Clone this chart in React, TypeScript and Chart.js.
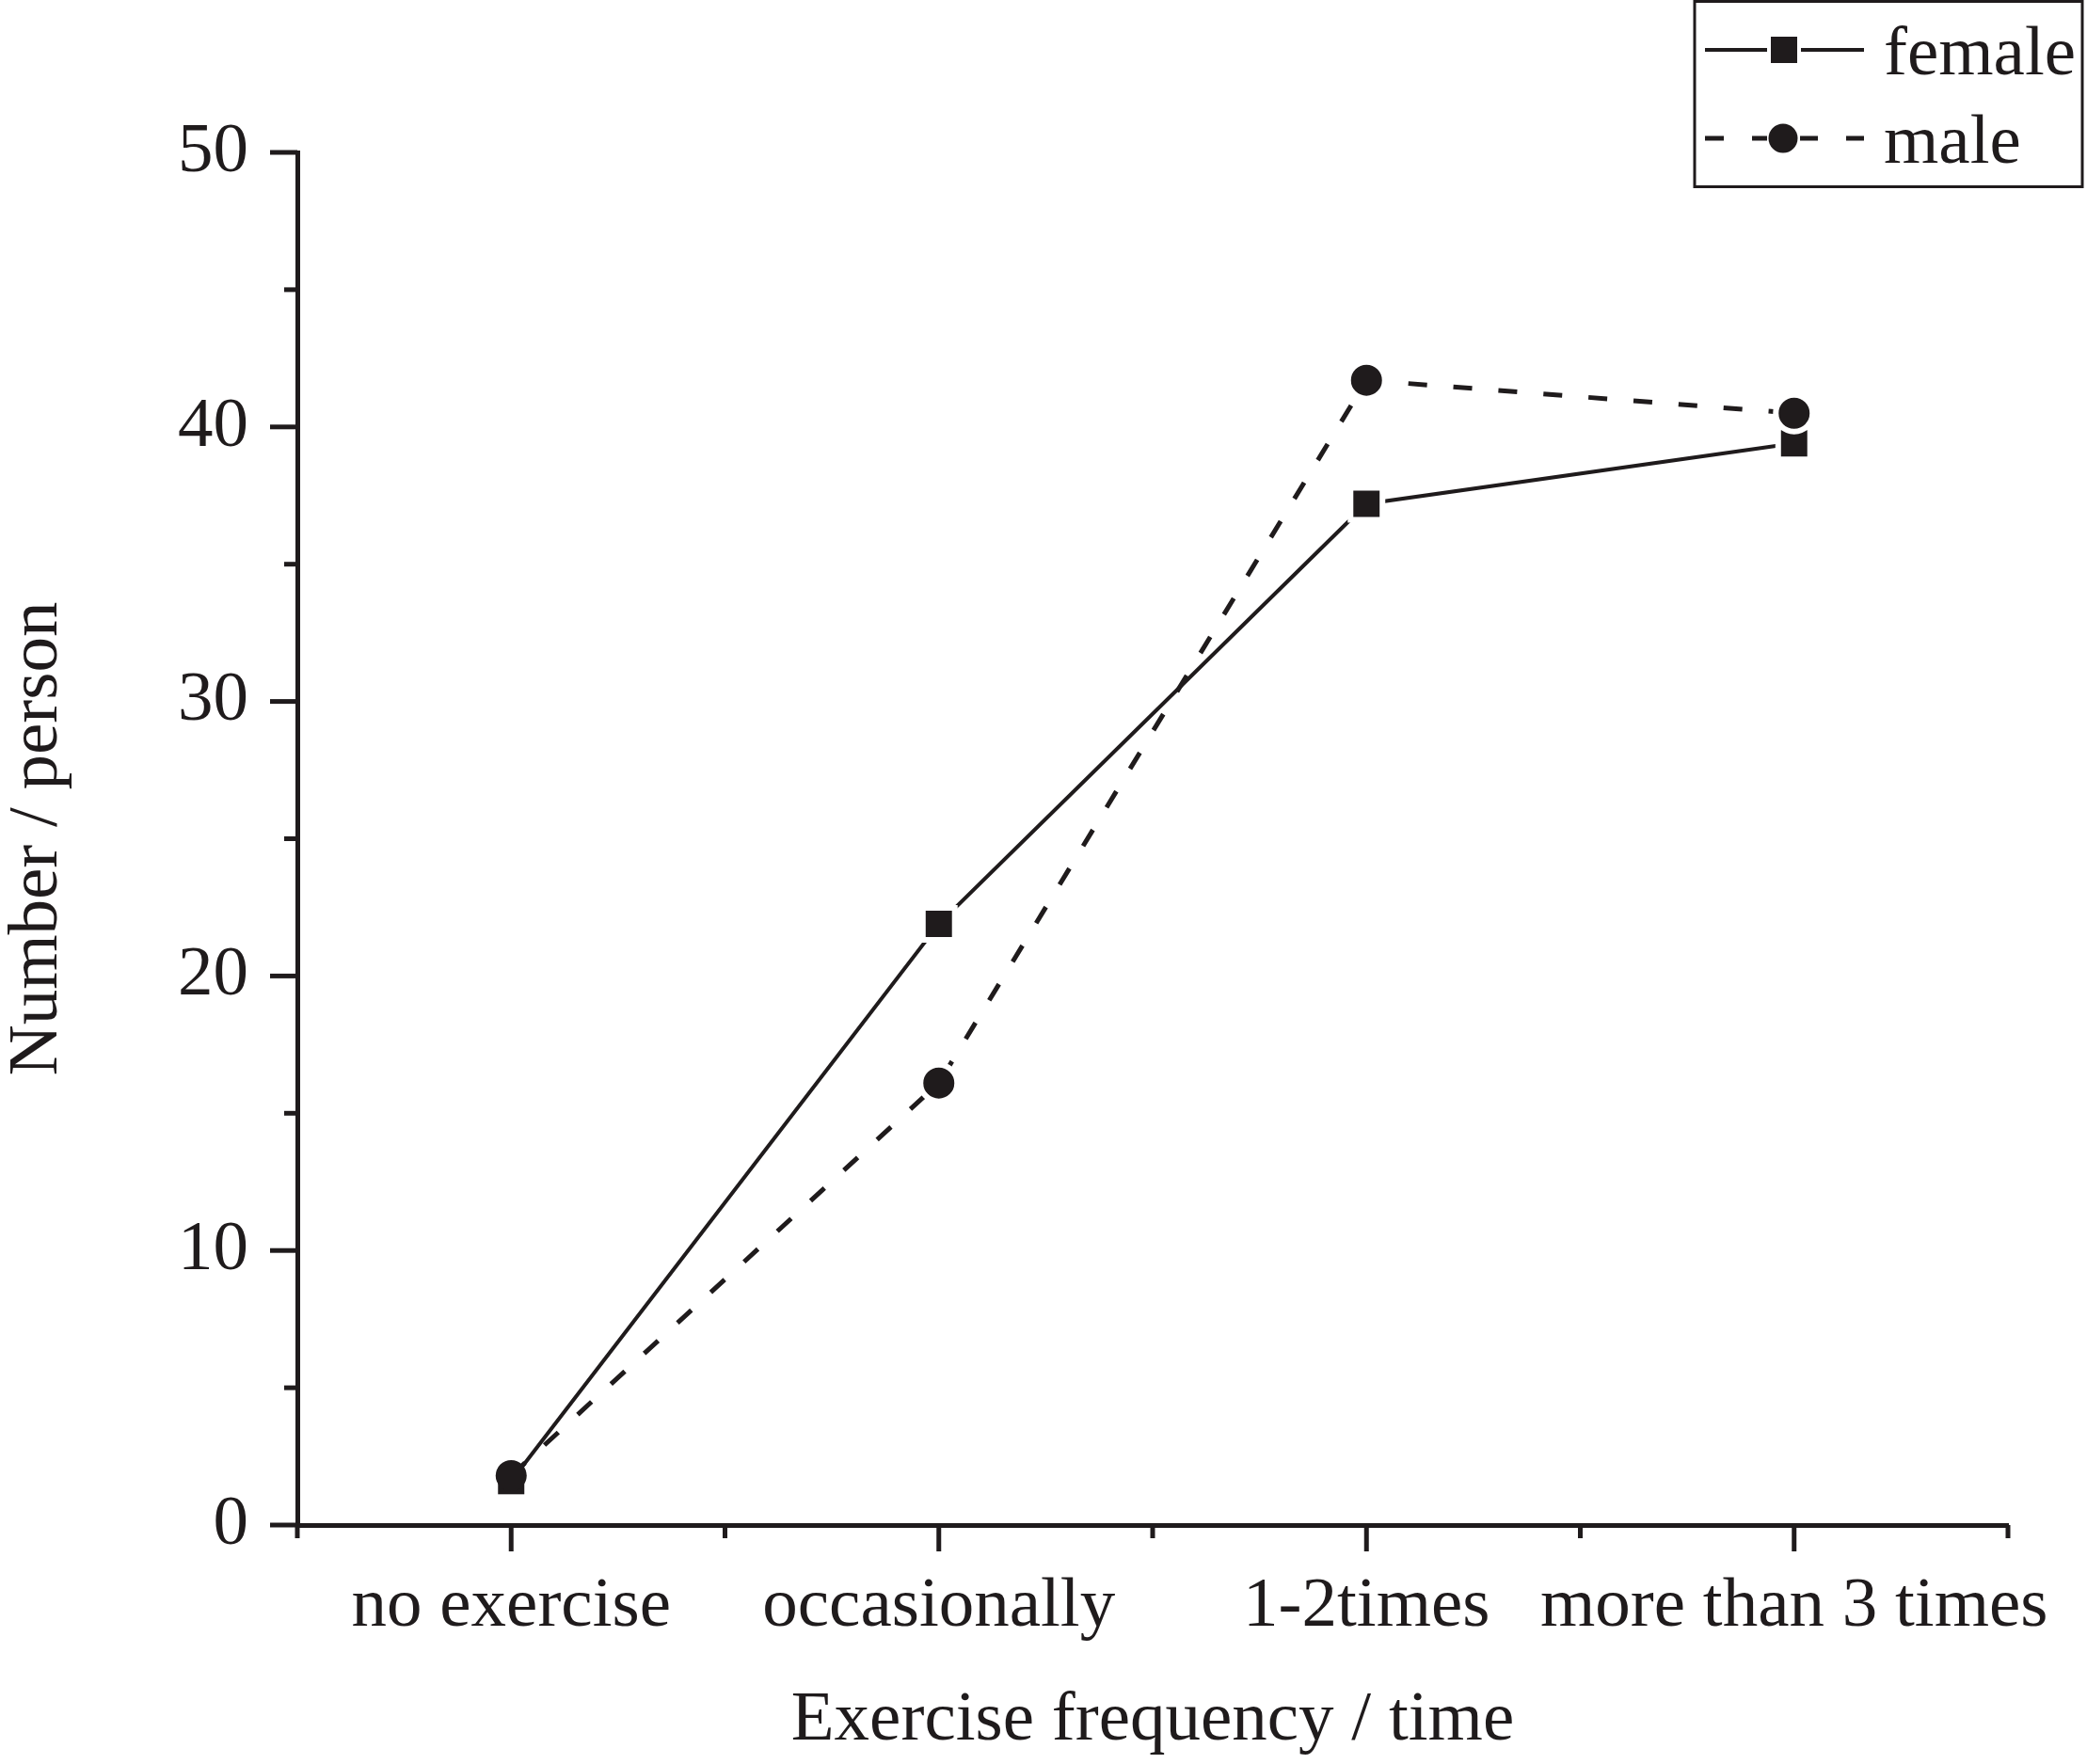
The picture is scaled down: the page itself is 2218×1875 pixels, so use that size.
import { useEffect, useRef } from 'react'
import { Chart, registerables } from 'chart.js'

Chart.register(...registerables)

const categories = ['no exercise', 'occasionally', '1-2times', 'more than 3 times']
const femaleCounts = [1.6, 21.9, 37.2, 39.4]
const maleCounts = [1.8, 16.1, 41.7, 40.5]
const yLabelTicks = [0, 10, 20, 30, 40, 50]

const INK = '#1f1b1c'
const FONT = '"Liberation Serif", "Times New Roman", serif'

// outward ticks, long on labelled values, short in between
const axisTicks = {
  id: 'axisTicks',
  afterDraw(chart: Chart) {
    const { ctx, scales } = chart
    const x = scales.x
    const y = scales.y
    ctx.save()
    ctx.strokeStyle = INK
    ctx.lineWidth = 5
    ctx.lineCap = 'butt'
    x.ticks.forEach((t) => {
      const px = x.getPixelForValue(t.value)
      const len = Number.isInteger(t.value) ? 28 : 14
      ctx.beginPath()
      ctx.moveTo(px, y.bottom)
      ctx.lineTo(px, y.bottom + len)
      ctx.stroke()
    })
    y.ticks.forEach((t) => {
      const py = y.getPixelForValue(t.value)
      const len = yLabelTicks.includes(t.value) ? 29 : 14
      ctx.beginPath()
      ctx.moveTo(x.left, py)
      ctx.lineTo(x.left - len, py)
      ctx.stroke()
    })
    ctx.restore()
  },
}

// boxed legend in the top right corner, Origin style
const boxLegend = {
  id: 'boxLegend',
  afterDraw(chart: Chart) {
    const { ctx } = chart
    const sets = chart.data.datasets
    ctx.save()
    ctx.strokeStyle = INK
    ctx.fillStyle = INK
    ctx.lineWidth = 3
    ctx.strokeRect(1801, 1.5, 2213 - 1801, 197)

    // female: solid line with square
    ctx.lineWidth = 4
    ctx.beginPath()
    ctx.moveTo(1812, 53)
    ctx.lineTo(1878, 53)
    ctx.moveTo(1914, 53)
    ctx.lineTo(1981, 53)
    ctx.stroke()
    ctx.fillRect(1882, 39, 28, 28)

    // male: dashed line with circle
    ctx.lineWidth = 5
    const segs = [[1812, 1832], [1862, 1878], [1913, 1932], [1962, 1981]]
    segs.forEach(([a, b]) => {
      ctx.beginPath()
      ctx.moveTo(a, 147)
      ctx.lineTo(b, 147)
      ctx.stroke()
    })
    ctx.beginPath()
    ctx.arc(1895, 147, 15.5, 0, Math.PI * 2)
    ctx.fill()

    ctx.font = `75px ${FONT}`
    ctx.textBaseline = 'alphabetic'
    ctx.textAlign = 'left'
    ctx.fillText(String(sets[0].label), 2002, 79)
    ctx.fillText(String(sets[1].label), 2002, 173)
    ctx.restore()
  },
}

export default function App() {
  const canvasRef = useRef<HTMLCanvasElement>(null)
  const chartRef = useRef<Chart | null>(null)

  useEffect(() => {
    if (!canvasRef.current) return
    if (chartRef.current) chartRef.current.destroy()

    const halo = (first: number, rest: number) => (c: any) => (c.dataIndex === 0 ? first : rest)

    chartRef.current = new Chart(canvasRef.current, {
      type: 'line',
      data: {
        datasets: [
          {
            label: 'female',
            data: femaleCounts.map((v, i) => ({ x: i, y: v })),
            borderColor: INK,
            borderWidth: 4,
            pointStyle: 'rect',
            pointBackgroundColor: INK,
            pointBorderColor: '#ffffff',
            pointBorderWidth: halo(0, 6),
            pointRadius: halo(19.8, 24),
            tension: 0,
            order: 1,
          },
          {
            label: 'male',
            data: maleCounts.map((v, i) => ({ x: i, y: v })),
            borderColor: INK,
            borderWidth: 5,
            borderDash: [20, 28],
            pointStyle: 'circle',
            pointBackgroundColor: INK,
            pointBorderColor: '#ffffff',
            pointBorderWidth: halo(0, 6),
            pointRadius: halo(16.5, 19.5),
            tension: 0,
            order: 0,
          },
        ],
      },
      options: {
        responsive: true,
        maintainAspectRatio: false,
        animation: false,
        devicePixelRatio: 1,
        layout: { padding: { left: 0, right: 84, top: 162, bottom: 0 } },
        plugins: {
          legend: { display: false },
          tooltip: { enabled: false },
        },
        scales: {
          x: {
            type: 'linear',
            min: -0.5,
            max: 3.5,
            afterFit: (s: any) => { s.height = 254 },
            grid: { display: false, drawTicks: false },
            border: { display: true, color: INK, width: 5 },
            ticks: {
              stepSize: 0.5,
              autoSkip: false,
              maxRotation: 0,
              padding: 42,
              color: INK,
              font: { family: FONT, size: 75 },
              callback: (v: any) => (Number.isInteger(v) ? categories[v] : ''),
            },
            title: {
              display: true,
              text: 'Exercise frequency / time',
              color: INK,
              font: { family: FONT, size: 75, lineHeight: 1 },
              padding: { top: 0, bottom: 8 },
            },
          },
          y: {
            min: 0,
            max: 50,
            afterFit: (s: any) => { s.width = 316 },
            grid: { display: false, drawTicks: false },
            border: { display: true, color: INK, width: 5 },
            ticks: {
              stepSize: 5,
              autoSkip: false,
              padding: 52,
              color: INK,
              font: { family: FONT, size: 75 },
              callback: (v: any) => (yLabelTicks.includes(v) ? String(v) : ''),
            },
            title: {
              display: true,
              text: 'Number / person',
              color: INK,
              font: { family: FONT, size: 75, lineHeight: 1 },
              padding: { top: 3, bottom: 0 },
            },
          },
        },
      },
      plugins: [axisTicks, boxLegend],
    })

    return () => { chartRef.current?.destroy() }
  }, [])

  return (
    <div style={{ position: 'fixed', left: 0, top: 0, width: 2218, height: 1875, background: '#fff' }}>
      <canvas ref={canvasRef} />
    </div>
  )
}
